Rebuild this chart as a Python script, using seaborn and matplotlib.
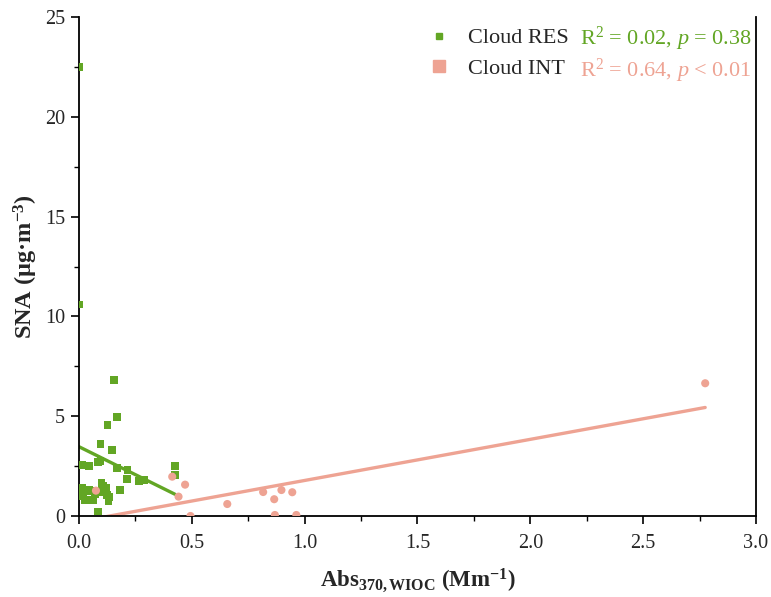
import matplotlib
matplotlib.use('Agg')
import numpy as np
import pandas as pd
import matplotlib.pyplot as plt
from matplotlib.lines import Line2D
from matplotlib.ticker import MultipleLocator, FormatStrFormatter
import seaborn as sns

# Cloud RES (residual) samples
res_x = [0.0, 0.0, 0.156, 0.168, 0.127, 0.096, 0.147, 0.015, 0.044, 0.083,
         0.096, 0.167, 0.215, 0.212, 0.266, 0.289, 0.181, 0.425, 0.425, 0.012,
         0.012, 0.027, 0.044, 0.100, 0.100, 0.122, 0.125, 0.130, 0.063, 0.085,
         0.005, 0.020, 0.090, 0.110, 0.135, 0.070, 0.050, 0.105]
res_y = [22.5, 10.6, 6.8, 4.95, 4.55, 3.6, 3.3, 2.55, 2.5, 2.7,
         2.75, 2.4, 2.3, 1.85, 1.75, 1.8, 1.3, 2.5, 2.05, 1.4,
         1.0, 0.8, 1.3, 1.65, 1.45, 1.4, 1.05, 0.75, 0.8, 0.22,
         1.2, 1.1, 1.2, 1.3, 0.95, 1.1, 1.25, 1.5]

# Cloud INT (interstitial) samples
int_x = [0.075, 0.413, 0.441, 0.470, 0.494, 0.657, 0.816, 0.865, 0.868,
         0.897, 0.945, 0.963, 2.775]
int_y = [1.27, 1.97, 0.97, 1.57, 0.0, 0.6, 1.2, 0.84, 0.05,
         1.3, 1.19, 0.05, 6.65]

# linear fits (intercept, slope) and stats
res_fit = (3.47, -5.6)
int_fit = (-0.28, 2.06)
res_stat = r'R$^2$ = 0.02, $p$ = 0.38'
int_stat = r'R$^2$ = 0.64, $p$ < 0.01'

green = '#62a624'
pink = '#eea393'

sns.set_style('ticks')
plt.rcParams['font.family'] = ['Liberation Serif', 'DejaVu Serif']
plt.rcParams['mathtext.fontset'] = 'custom'
plt.rcParams['mathtext.rm'] = 'Liberation Serif'
plt.rcParams['mathtext.it'] = 'Liberation Serif:italic'
plt.rcParams['mathtext.bf'] = 'Liberation Serif:bold'

res = pd.DataFrame({'x': res_x, 'y': res_y})
cint = pd.DataFrame({'x': int_x, 'y': int_y})

fig, ax = plt.subplots(figsize=(7.71, 5.97), dpi=100)
fig.subplots_adjust(left=0.1025, right=0.9805, top=0.9715, bottom=0.1357)

sns.scatterplot(data=res, x='x', y='y', ax=ax, marker='s', s=30,
                color=green, edgecolor='none', zorder=3)
sns.scatterplot(data=cint, x='x', y='y', ax=ax, marker='o', s=34,
                color=pink, edgecolor='none', zorder=3)

# fit lines over data range
for df, (b, k), c in [(res, res_fit, green), (cint, int_fit, pink)]:
    xs = np.array([df['x'].min(), df['x'].max()])
    sns.lineplot(x=xs, y=b + k * xs, ax=ax, color=c, lw=2.4, zorder=2)

ax.set_xlim(0, 3.0)
ax.set_ylim(0, 25)
ax.xaxis.set_major_locator(MultipleLocator(0.5))
ax.xaxis.set_minor_locator(MultipleLocator(0.25))
ax.yaxis.set_major_locator(MultipleLocator(5))
ax.yaxis.set_minor_locator(MultipleLocator(2.5))
ax.tick_params(which='major', length=6, width=1.2, labelsize=14.5, color='black')
ax.tick_params(which='minor', length=3.5, width=1.0, color='black')
ax.tick_params(axis='x', pad=7)
ax.tick_params(axis='y', pad=4)
ax.xaxis.set_major_formatter(FormatStrFormatter('%.1f'))
for sp in ['left', 'bottom', 'right']:
    ax.spines[sp].set_linewidth(1.3)
    ax.spines[sp].set_color('black')
ax.spines['top'].set_visible(False)

ax.set_xlabel(r'Abs$_{\mathbf{370,WIOC}}$ (Mm$^{\mathbf{-1}}$)', fontsize=16.5,
              fontweight='bold', labelpad=10)
ax.set_ylabel('SNA (μg·m$^{\\mathbf{-3}}$)', fontsize=17.5,
              fontweight='bold')
ax.yaxis.set_label_coords(-0.058, 0.5)

handles = [Line2D([], [], ls='none', marker='s', ms=5, color=green),
           Line2D([], [], ls='none', marker='s', ms=8, color=pink)]
ax.legend(handles, ['Cloud RES', 'Cloud INT'], loc='upper left',
          bbox_to_anchor=(0.502, 0.996), frameon=False, fontsize=16,
          handlelength=1.0, handletextpad=0.8, labelspacing=0.45,
          borderaxespad=0.0)

ax.text(0.74, 0.956, res_stat, transform=ax.transAxes, color=green,
        fontsize=16, va='center', ha='left')
ax.text(0.74, 0.893, int_stat, transform=ax.transAxes, color=pink,
        fontsize=16, va='center', ha='left')

fig.savefig('out.png', dpi=100)
